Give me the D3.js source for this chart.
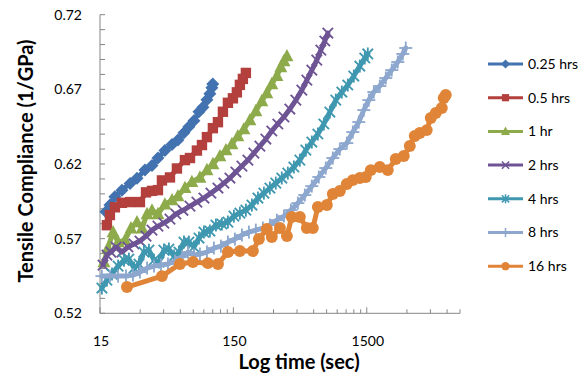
<!DOCTYPE html>
<meta charset="utf-8">
<style>
    body { margin: 0; background: #fff; }
    text { font-family: Lato, "Open Sans", sans-serif; fill: #000; }
    .axis-title { font-weight: bold; font-size: 20px; }
    .tick-label { font-size: 14px; }
    .legend text { font-size: 14px; }
</style>
<body>
<script src="https://d3js.org/d3.v7.min.js"></script>
<script>

// series names and colours
const seriesNames = ["0.25 hrs", "0.5 hrs", "1 hr", "2 hrs", "4 hrs", "8 hrs", "16 hrs"];
const seriesColors = ["#4372b0", "#b3403d", "#8eab4c", "#6e5494", "#3f98b0", "#8da7ce", "#e08538"];
const seriesMarkers = ["diamond", "square", "triangle", "x", "star", "plus", "circle"];

// time (sec) and tensile compliance (1/GPa)
const t025 = [16.6,17.8,19.4,21.9,25.2,28.4,32.6,36.8,40.8,46,52,57.6,63.9,69.6,75.9,82.8,88.7,95,100,103.5,105];
const j025 = [0.588,0.5925,0.598,0.6025,0.607,0.6105,0.616,0.619,0.624,0.629,0.633,0.636,0.641,0.645,0.649,0.655,0.658,0.663,0.667,0.671,0.6735];

const t05 = [16.9,17.8,19.4,21.9,25.2,29.9,33.2,36.8,40.8,43.7,50.2,56.6,65,70.9,79.9,87.2,95,105.3,114.9,125.2,136.5,148.8,159.3,167.8,176.7,186.1];
const j05 = [0.579,0.5858,0.591,0.594,0.5945,0.5945,0.601,0.602,0.6025,0.609,0.611,0.617,0.6226,0.624,0.629,0.6327,0.638,0.644,0.648,0.655,0.661,0.664,0.668,0.673,0.677,0.681];

const t1 = [16.07,17.2,18.8,20.5,23.1,25.6,28.4,31,33.8,36.8,40.8,46,52,57.6,65,73.3,84.2,95,105.3,118.9,131.9,146.2,162,179.8,199.5,221,245,267,291,318,340,359,378];
const j1 = [0.5543,0.5637,0.5744,0.5677,0.569,0.577,0.5811,0.577,0.5865,0.589,0.5865,0.593,0.5958,0.5985,0.604,0.608,0.611,0.616,0.62,0.6253,0.6293,0.6334,0.6387,0.6434,0.6494,0.6555,0.6622,0.6675,0.6736,0.679,0.685,0.689,0.6923];

const t2 = [15.8,16.9,18.1,19.8,21.9,24.3,27,29.9,33.2,36.8,40.8,45.2,50.2,55.6,62.8,70.9,79.9,90.2,101.8,114.9,127.4,141.3,156.6,173.8,192.7,213.8,237,262.8,291,323,359,397.6,441,489,533,581,633,679,727,766];
const j2 = [0.5523,0.559,0.561,0.5644,0.561,0.5644,0.5664,0.5684,0.5717,0.5757,0.5784,0.5804,0.5831,0.5865,0.589,0.5918,0.5945,0.5972,0.6005,0.6039,0.6072,0.6106,0.6146,0.6186,0.6226,0.6273,0.632,0.6367,0.6421,0.6468,0.6515,0.6568,0.6628,0.6695,0.6762,0.6829,0.6896,0.6963,0.7024,0.7077];

const t4 = [15.5,16.9,18.45,20.5,22.7,24.7,27,29.4,32,34.9,38.1,41.5,45.2,49.3,53.8,58.6,63.9,69.6,75.9,82.8,90.2,100,111,123,136.5,151.3,167.8,186.1,206.5,229,254,281.6,312,346,384,426,472.5,524,581,645,715,793,879,975,1081,1199,1330,1449,1527];
const j4 = [0.5369,0.5422,0.5463,0.5516,0.5556,0.5563,0.5503,0.553,0.561,0.5623,0.5556,0.5543,0.5623,0.563,0.5583,0.561,0.5677,0.5677,0.5644,0.5704,0.5744,0.5751,0.5791,0.5798,0.5811,0.5851,0.5871,0.5891,0.5925,0.5972,0.6005,0.6039,0.6072,0.6106,0.6139,0.618,0.6226,0.6293,0.6347,0.6401,0.6468,0.6548,0.6628,0.6682,0.6729,0.6789,0.6856,0.691,0.6937];

const t8 = [15.5,17.8,20.5,23.5,26.5,29.9,33.8,38.1,43,48.5,54.7,61.7,68.4,75.9,84.2,95,107.2,120.9,136.5,154,173.8,196,221,249.6,281.6,318,359,404.5,456.6,515,581,655.6,739.6,835,942,1063,1179,1307,1425,1554,1694,1878,2083,2310,2562,2793,2941];
const j8 = [0.5449,0.5449,0.5449,0.5449,0.5456,0.5476,0.5503,0.5516,0.5523,0.553,0.555,0.5577,0.561,0.559,0.5597,0.561,0.5637,0.565,0.5677,0.5697,0.5724,0.5744,0.5757,0.5771,0.5791,0.5824,0.5851,0.5891,0.5938,0.5992,0.6052,0.6113,0.6173,0.624,0.63,0.634,0.6414,0.6481,0.6561,0.6628,0.6682,0.6722,0.6776,0.6829,0.6883,0.6937,0.6977];

const t16 = [23.9,43.7,59.6,74.6,96.6,114.9,136.5,167.8,210,233,267,291,335,378,411,472.5,533,591,645,753,835,942,1063,1179,1330,1475,1608,1878,2156,2475,2841,3151,3435,3744,4223,4528,4935,5474,5665,5865];
const j16 = [0.5376,0.5449,0.553,0.5543,0.5536,0.553,0.561,0.5617,0.5617,0.5697,0.5764,0.5711,0.5771,0.5717,0.5845,0.5845,0.5771,0.5771,0.5912,0.5925,0.5999,0.6019,0.6066,0.6092,0.6106,0.6113,0.6159,0.618,0.6159,0.6233,0.6253,0.632,0.6387,0.6407,0.6427,0.6508,0.6541,0.6575,0.6642,0.6662];

// axis ticks
const xTickLabels = [15, 150, 1500];
const yTickLabels = [0.52, 0.57, 0.62, 0.67, 0.72];

const seriesTimes = [t025, t05, t1, t2, t4, t8, t16];
const seriesValues = [j025, j05, j1, j2, j4, j8, j16];

const width = 586, height = 385;
const plotLeft = 100, plotRight = 460, plotTop = 14.7, plotBottom = 313.3;

const svg = d3.select("body").append("svg")
    .attr("width", width)
    .attr("height", height);

const x = d3.scaleLog().domain([15, 7500]).range([plotLeft, plotRight]);
const y = d3.scaleLinear().domain([0.52, 0.72]).range([plotBottom, plotTop]);

// minor x ticks: multiples of each decade start
const xMinor = [];
[15, 150, 1500].forEach(d => {
    for (let k = 2; k <= 9; k++) if (d * k <= 7500) xMinor.push(d * k);
});

const axisColor = "#868686";

// axes
svg.append("line").attr("x1", plotLeft).attr("x2", plotLeft).attr("y1", plotTop).attr("y2", plotBottom)
    .attr("stroke", axisColor).attr("stroke-width", 1);
svg.append("line").attr("x1", plotLeft).attr("x2", plotRight).attr("y1", plotBottom).attr("y2", plotBottom)
    .attr("stroke", axisColor).attr("stroke-width", 1);

// y ticks every 0.01, pointing inside
const yTicks = d3.range(0, 21).map(i => 0.52 + i * 0.01);
svg.selectAll(".ytick").data(yTicks).enter().append("line")
    .attr("x1", plotLeft).attr("x2", plotLeft + 5)
    .attr("y1", d => y(d)).attr("y2", d => y(d))
    .attr("stroke", axisColor);

svg.selectAll(".xminor").data(xMinor).enter().append("line")
    .attr("x1", d => x(d)).attr("x2", d => x(d))
    .attr("y1", plotBottom).attr("y2", plotBottom - 4)
    .attr("stroke", axisColor);
svg.selectAll(".xmajor").data(xTickLabels).enter().append("line")
    .attr("x1", d => x(d)).attr("x2", d => x(d))
    .attr("y1", plotBottom).attr("y2", plotBottom - 6)
    .attr("stroke", axisColor);

svg.selectAll(".ylabel").data(yTickLabels).enter().append("text")
    .attr("class", "tick-label")
    .attr("x", 82).attr("y", d => y(d))
    .attr("dy", "0.35em")
    .attr("text-anchor", "end")
    .text(d => d.toFixed(2));

svg.selectAll(".xlabel").data(xTickLabels).enter().append("text")
    .attr("class", "tick-label")
    .attr("x", d => x(d) + 1).attr("y", 341)
    .attr("dy", "0.35em")
    .attr("text-anchor", "middle")
    .text(d => d);

svg.append("text").attr("class", "axis-title")
    .attr("x", 299).attr("y", 362).attr("dy", "0.35em")
    .attr("text-anchor", "middle")
    .text("Log time (sec)");

svg.append("text").attr("class", "axis-title")
    .attr("transform", "translate(26,161) rotate(-90)")
    .attr("dy", "0.35em")
    .attr("text-anchor", "middle")
    .text("Tensile Compliance (1/GPa)");

// marker drawing, s = size factor
function drawMarker(g, type, color, s) {
    if (type === "diamond") {
        g.append("path").attr("d", `M0,${-5 * s}L${5 * s},0L0,${5 * s}L${-5 * s},0Z`).attr("fill", color);
    } else if (type === "square") {
        g.append("rect").attr("x", -4 * s).attr("y", -4 * s).attr("width", 8 * s).attr("height", 8 * s).attr("fill", color);
    } else if (type === "triangle") {
        g.append("path").attr("d", `M0,${-5.5 * s}L${5 * s},${4 * s}L${-5 * s},${4 * s}Z`).attr("fill", color);
    } else if (type === "circle") {
        g.append("circle").attr("r", 4.6 * s).attr("fill", color);
    } else {
        const segs = [];
        if (type === "x" || type === "star") segs.push([-4, -4, 4, 4], [-4, 4, 4, -4]);
        if (type === "star") segs.push([0, -5, 0, 5]);
        if (type === "plus") segs.push([-5, 0, 5, 0], [0, -5, 0, 5]);
        segs.forEach(p => g.append("line")
            .attr("x1", p[0] * s).attr("y1", p[1] * s).attr("x2", p[2] * s).attr("y2", p[3] * s)
            .attr("stroke", color).attr("stroke-width", 1.6 * Math.sqrt(s)));
    }
}

const line = d3.line().x(d => x(d[0])).y(d => y(d[1]));

seriesNames.forEach((name, i) => {
    const pts = seriesTimes[i].map((t, k) => [t, seriesValues[i][k]]);
    const g = svg.append("g");
    g.append("path").datum(pts)
        .attr("d", line)
        .attr("fill", "none")
        .attr("stroke", seriesColors[i])
        .attr("stroke-width", 5)
        .attr("stroke-linejoin", "round")
        .attr("stroke-linecap", "round");
    pts.forEach(p => {
        const m = g.append("g").attr("transform", `translate(${x(p[0])},${y(p[1])})`);
        drawMarker(m, seriesMarkers[i], seriesColors[i], 1.3);
    });
});

// legend
const legend = svg.append("g").attr("class", "legend");
seriesNames.forEach((name, i) => {
    const ly = 64 + i * 33.7;
    legend.append("line").attr("x1", 488).attr("x2", 523).attr("y1", ly).attr("y2", ly)
        .attr("stroke", seriesColors[i]).attr("stroke-width", 3);
    const m = legend.append("g").attr("transform", `translate(505.5,${ly})`);
    drawMarker(m, seriesMarkers[i], seriesColors[i], 0.9);
    legend.append("text").attr("x", 528).attr("y", ly).attr("dy", "0.35em").text(name);
});

</script>
</body>
</html>
